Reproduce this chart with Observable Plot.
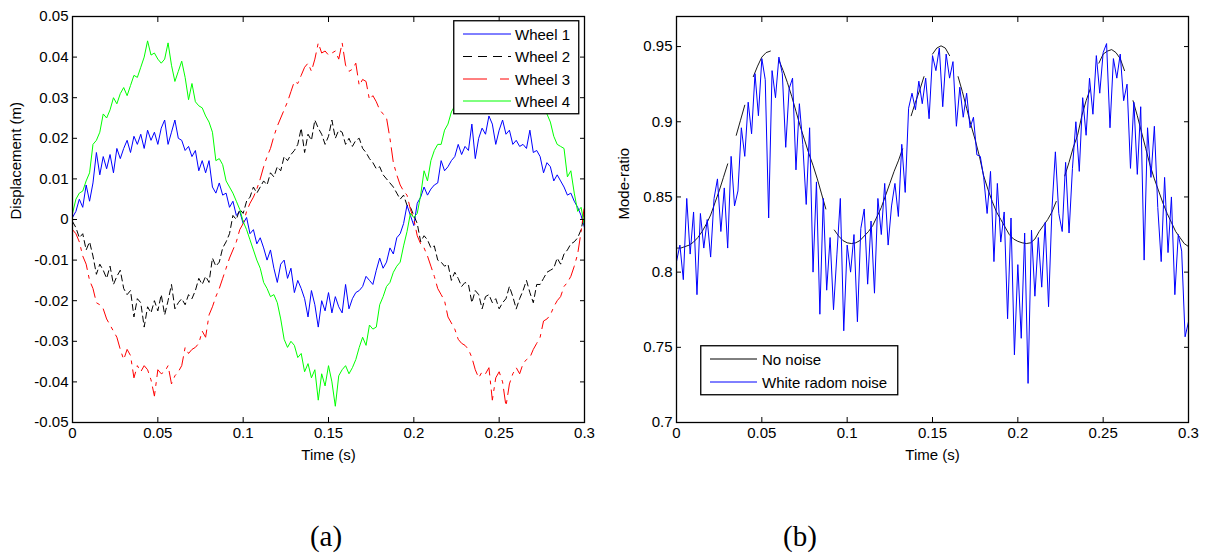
<!DOCTYPE html>
<html>
<head>
<meta charset="utf-8">
<script src="https://cdn.jsdelivr.net/npm/d3@7"></script>
<script src="https://cdn.jsdelivr.net/npm/@observablehq/plot@0.6"></script>
<style>
  html, body { margin: 0; padding: 0; background: #fff; }
  #wrap { position: relative; width: 1213px; height: 554px; overflow: hidden; background: #fff;
          font-family: "Liberation Sans", Arial, sans-serif; }
  .panel { position: absolute; top: 0; }
  .cap { position: absolute; top: 518px; width: 80px; text-align: center; line-height: 36px;
         font-family: "Liberation Serif", "Times New Roman", serif; font-size: 29px; color: #000; }
  .leg { position: absolute; }
</style>
</head>
<body>
<div id="wrap">
  <div id="pa" class="panel" style="left:0px"></div>
  <div id="pb" class="panel" style="left:600px"></div>
  <div class="cap" style="left:286px">(a)</div>
  <div class="cap" style="left:760px">(b)</div>
</div>
<script>
// ---------- Data ----------
const xTicks = [0, 0.05, 0.1, 0.15, 0.2, 0.25, 0.3];
const yTicksA = [-0.05, -0.04, -0.03, -0.02, -0.01, 0, 0.01, 0.02, 0.03, 0.04, 0.05];
const yTicksB = [0.7, 0.75, 0.8, 0.85, 0.9, 0.95];

// sample times (s): 0 to 0.3 every 0.002 s, and every 0.0025 s for the noise-free ratio
const time = d3.range(151).map(i => +(i * 0.002).toFixed(3));
const timeFine = d3.range(121).map(i => +(i * 0.0025).toFixed(4));

// displacements in millimetres
const wheel1_mm = [0.5,2,5,3,8.5,4.5,9,16.5,11,15.5,12.5,16,11.5,17.5,15,17.5,19.5,16.5,20.5,18.5,
21,17.5,22,19.5,21.5,18.5,22.5,24.5,18.5,21.5,24.5,20,19.5,17,18,15.5,17,12,14.5,11.5,
14.5,8,6.5,9,6,6.5,3,4.5,1,2,-1,0.5,-3.5,-2.5,-6,-4.5,-7,-10,-7.5,-12,
-15.5,-11,-10,-14.5,-12,-18,-15,-17,-19.5,-24,-17.5,-21,-26.5,-20,-22.5,-18,-23,-19,-21.5,-23,
-16,-22,-19.5,-18,-17.5,-16.5,-14,-15,-16,-12.5,-9.5,-12,-10.5,-7,-8.5,-4.5,-3.5,-1,3.5,1,
-1.5,4,5.5,8,6,7.5,8.5,9,14.5,12,13,14.5,15.5,18.5,16,18,17,23.5,15,20,
22.5,21,25.5,23.5,18.5,22,24.5,21,22,18.5,19.5,18,18.5,17.5,22,16.5,17,15.5,11.5,14,
13,9.5,11,9.5,8,6,6.5,4.5,3,1,-2];

const wheel2_mm = [-0.5,-2,-4.5,-3.5,-7.5,-5.5,-9,-13.5,-11,-12.5,-14.5,-11.5,-16,-14,-12.5,-17,-18.5,-17.5,-24,-19.5,
-20.5,-26.5,-21.5,-23,-20,-22.5,-18.5,-23.5,-20,-16,-22,-20.5,-19.5,-21,-18.5,-19.5,-17.5,-14.5,-16,-14,
-15.5,-9.5,-11.5,-10.5,-7,-5.5,-3.5,1,0,2.5,1.5,4.5,5.5,8,6.5,8,9.5,8.5,11.5,10.5,
13,12,15.5,14.5,16,17,18.5,22.5,16.5,21,19.5,24.5,22.5,21,18.5,20.5,24.5,20,22,21.5,
18.5,20,18,19.5,20,17.5,16.5,15,14,12.5,13,11,10,9,8,6.5,5,6,3.5,3,
1,-1,-5.5,-4,-5,-7,-6.5,-10,-10.5,-11.5,-11,-15,-13,-14.5,-16.5,-15.5,-16,-20.5,-17.5,-18.5,
-22,-19,-18.5,-20.5,-19.5,-22,-20.5,-19.5,-16.5,-19,-22,-19.5,-17.5,-15,-18,-20.5,-16,-16,-14.5,-13,
-12.5,-12,-9.5,-11,-8.5,-7.5,-6,-5.5,-4.5,-2.5,1.5];

const wheel3_mm = [-2.5,-3.5,-5.5,-9,-11,-15,-17,-20.5,-21,-22,-24.5,-26,-27.5,-29,-32,-34.5,-32,-33.5,-39,-36,
-37.5,-36,-37,-39.5,-43.5,-37,-38,-37.5,-36,-40.5,-38.5,-37.5,-36,-31.5,-33,-32,-31.5,-30.5,-27.5,-29,
-23.5,-21.5,-19,-17,-14.5,-12,-9.5,-7.5,-5.5,-2.5,-1,2,4,5.5,7.5,10,13,15.5,17.5,20.5,
23,25,27,29,31.5,34,33.5,35.5,37.5,38.5,36.5,39.5,43.5,41,41.5,40.5,41,41.5,39.5,43.5,
38,36.5,37,38.5,33,34.5,34,29.5,30.5,29,27,26,25,20,14,11,8.5,7,6,2.5,
0,-4,-6,-7,-9,-11.5,-14,-17,-18.5,-20,-24,-25.5,-27,-29.5,-30.5,-31,-32,-34,-37,-39,
-37.5,-38,-36.5,-44.5,-39,-37.5,-40,-46,-40.5,-38,-36.5,-38,-35.5,-34.5,-34,-32,-30.5,-29,-25,-24.5,
-23.5,-21.5,-20,-19,-16.5,-15.5,-14,-11.5,-8.5,-3,3.5];

const wheel4_mm = [1.5,5,6.5,7,9.5,11.5,18.5,19.5,21.5,26,25,27,30,28.5,31,32.5,30.5,33,35.5,35,
37.5,40,44,40.5,41,39.5,38.5,39.5,43.5,38,34,36.5,39,35,29.5,33.5,29,28,27.5,25.5,
24,21.5,14.5,15,13.5,9.5,8,6.5,4.5,2.5,-0.5,-2.5,-5,-7.5,-10,-12,-15.5,-17,-19,-18.5,
-20.5,-24.5,-29.5,-31.5,-30,-31,-34,-33,-37.5,-35.5,-39,-37,-44.5,-38,-41,-36,-40,-46,-38.5,-37,
-36,-38,-36.5,-34.5,-31.5,-29,-31,-26,-27,-26.5,-21,-19,-16.5,-15.5,-13,-11.5,-10.5,-6.5,-3,1.5,
0.5,1.5,6,12,9.5,14.5,17,18.5,18.5,22,23.5,26.5,28,30.5,31,33.5,33,35.5,37,36,
39,38,41.5,39.5,41,40,42.5,39,40.5,38,39,36.5,37,34,33.5,31.5,30.5,29,27.5,26,
24,20.5,18.5,18,17.5,10.5,12,6.5,2,3,-1.5];

// mode-ratio without noise (null = break in the drawn curve)
const ratioNoNoise = [.816,.816,.817,.818,.820,.823,.827,.832,.838,.846,.854,.863,.872,null,.891,.901,.911,null,.930,.937,
.943,.946,.947,null,.941,.934,.926,.917,.907,.897,.888,.879,.871,.862,.852,.842,null,.828,.824,.821,
.8195,.819,.8195,.821,.824,.827,.831,.837,.843,.851,.859,.867,.874,.882,null,.904,.913,.921,.930,null,
.945,.949,.9505,.949,.944,null,.930,.920,.909,.898,.888,.877,.864,.855,.847,.840,.835,.830,.825,.822,
.8205,.8195,.819,.8195,.822,.827,.831,.835,.840,.847,null,.864,.873,.883,.891,.904,.914,.922,null,.939,
.945,.947,.948,.946,.942,.934,null,.914,.904,.893,.882,.871,.862,.854,.846,.839,.833,.827,.823,.819,
.817];

// mode-ratio with white random noise
const ratioNoise = [.807,.818,.795,.849,.812,.840,.785,.839,.816,.835,.810,.849,.862,.827,.856,.816,.877,.844,.854,.896,
.877,.913,.892,.932,.904,.942,.928,.836,.934,.916,.943,.932,.883,.922,.929,.868,.912,.885,.845,.896,
.800,.860,.772,.849,.788,.823,.775,.812,.849,.761,.818,.800,.825,.767,.829,.842,.792,.834,.786,.849,
.825,.859,.818,.844,.859,.837,.885,.853,.909,.919,.908,.927,.912,.929,.902,.944,.934,.949,.910,.945,
.929,.940,.897,.923,.903,.919,.896,.903,.878,.877,.863,.839,.867,.807,.859,.820,.840,.769,.836,.745,
.805,.756,.826,.726,.828,.784,.823,.790,.833,.777,.842,.880,.839,.827,.873,.826,.869,.900,.867,.916,
.891,.929,.905,.944,.919,.946,.952,.896,.942,.929,.945,.914,.925,.869,.913,.865,.910,.808,.896,.863,
.897,.843,.807,.863,.813,.850,.785,.825,.814,.757,.767];

// ---------- Drawing ----------
const fmt = d => String(+(+d).toFixed(3));
const font = "'Liberation Sans', Arial, sans-serif";
const baseStyle = {fontFamily: font, fontSize: "15px", color: "#000", background: "transparent", overflow: "visible"};

function frameAxes(yTicks, yLabel, yLabelOffset) {
  return [
    Plot.axisX({anchor: "bottom", ticks: xTicks, tickSize: -5, tickPadding: 10, tickFormat: fmt, label: null}),
    Plot.axisX({anchor: "top", ticks: xTicks, tickSize: -5, tickPadding: 0, tickFormat: () => "", label: null}),
    Plot.axisY({anchor: "left", ticks: yTicks, tickSize: -5, tickPadding: 9, tickFormat: fmt, label: null}),
    Plot.axisY({anchor: "right", ticks: yTicks, tickSize: -5, tickPadding: 0, tickFormat: () => "", label: null}),
    Plot.frame({stroke: "#000", strokeWidth: 1.3}),
    Plot.text(["Time (s)"], {text: d => d, frameAnchor: "bottom", dy: 33, lineAnchor: "middle", fill: "#000"}),
    Plot.text([yLabel], {text: d => d, frameAnchor: "left", dx: -yLabelOffset, rotate: -90, lineAnchor: "middle", fill: "#000"})
  ];
}

const plotA = Plot.plot({
  width: 600, height: 470,
  marginLeft: 72, marginRight: 16, marginTop: 16, marginBottom: 48,
  style: baseStyle,
  x: {domain: [0, 0.3]},
  y: {domain: [-0.05, 0.05]},
  marks: [
    Plot.line(wheel1_mm, {x: time, y: d => d / 1000, stroke: "#0000ff", strokeWidth: 1, clip: true}),
    Plot.line(wheel2_mm, {x: time, y: d => d / 1000, stroke: "#000", strokeWidth: 1, strokeDasharray: "6,4", clip: true}),
    Plot.line(wheel3_mm, {x: time, y: d => d / 1000, stroke: "#ff0000", strokeWidth: 1, strokeDasharray: "14,6,3,6", clip: true}),
    Plot.line(wheel4_mm, {x: time, y: d => d / 1000, stroke: "#00ff00", strokeWidth: 1, clip: true}),
    ...frameAxes(yTicksA, "Displacement (m)", 56)
  ]
});
document.getElementById("pa").appendChild(plotA);

const plotB = Plot.plot({
  width: 613, height: 470,
  marginLeft: 76, marginRight: 25, marginTop: 16, marginBottom: 48,
  style: baseStyle,
  x: {domain: [0, 0.3]},
  y: {domain: [0.7, 0.97]},
  marks: [
    Plot.line(ratioNoNoise, {x: timeFine, y: d => d, stroke: "#000", strokeWidth: 0.9, clip: true}),
    Plot.line(ratioNoise, {x: time, y: d => d, stroke: "#0000ff", strokeWidth: 1, clip: true}),
    ...frameAxes(yTicksB, "Mode-ratio", 52)
  ]
});
document.getElementById("pb").appendChild(plotB);

// ---------- Legends ----------
function legend(left, top, w, h, items, lineX1, lineX2, textX, rowY) {
  const ns = "http://www.w3.org/2000/svg";
  const svg = document.createElementNS(ns, "svg");
  svg.setAttribute("width", w + 2); svg.setAttribute("height", h + 2);
  svg.setAttribute("class", "leg");
  svg.style.left = left + "px"; svg.style.top = top + "px";
  const rect = document.createElementNS(ns, "rect");
  rect.setAttribute("x", 0.75); rect.setAttribute("y", 0.75);
  rect.setAttribute("width", w); rect.setAttribute("height", h);
  rect.setAttribute("fill", "#fff"); rect.setAttribute("stroke", "#000"); rect.setAttribute("stroke-width", 1.3);
  svg.appendChild(rect);
  items.forEach((it, i) => {
    const y = rowY[i];
    const ln = document.createElementNS(ns, "line");
    ln.setAttribute("x1", lineX1); ln.setAttribute("x2", lineX2);
    ln.setAttribute("y1", y); ln.setAttribute("y2", y);
    ln.setAttribute("stroke", it.color); ln.setAttribute("stroke-width", 1);
    if (it.dash) ln.setAttribute("stroke-dasharray", it.dash);
    svg.appendChild(ln);
    const tx = document.createElementNS(ns, "text");
    tx.setAttribute("x", textX); tx.setAttribute("y", y);
    tx.setAttribute("dominant-baseline", "central");
    tx.setAttribute("font-family", font); tx.setAttribute("font-size", "15px");
    tx.setAttribute("fill", "#000");
    tx.textContent = it.label;
    svg.appendChild(tx);
  });
  document.getElementById("wrap").appendChild(svg);
}

const legendA = [
  {label: "Wheel 1", color: "#0000ff"},
  {label: "Wheel 2", color: "#000", dash: "9,6"},
  {label: "Wheel 3", color: "#ff0000", dash: "24,13,9,4"},
  {label: "Wheel 4", color: "#00ff00"}
];
legend(453, 20, 125, 93, legendA, 10, 58, 62, [14, 36.5, 59, 81]);

const legendB = [
  {label: "No noise", color: "#000"},
  {label: "White radom noise", color: "#0000ff"}
];
legend(700, 345, 197, 49, legendB, 10, 57, 62, [14, 37]);
</script>
</body>
</html>
